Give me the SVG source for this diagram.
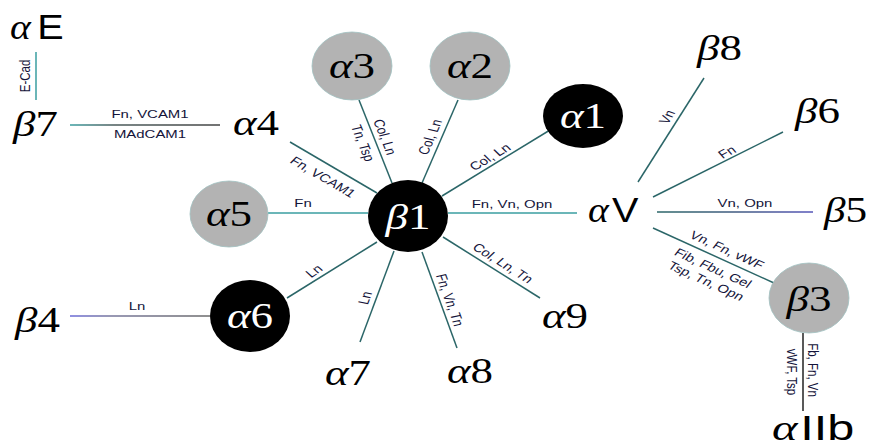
<svg xmlns="http://www.w3.org/2000/svg" width="869" height="446" viewBox="0 0 869 446">
<style>
.c{stroke:#2b6668;stroke-width:1.5;fill:none}
.cb{stroke:#3a9ea0;stroke-width:1.5;fill:none}
.lbl{font-family:"Liberation Sans",Arial,sans-serif;font-size:11.5px;fill:#14143a;text-anchor:middle}
.big{font-family:"Liberation Serif","Times New Roman",serif;font-size:36px;fill:#000}
.g{font-style:italic}
.sans{font-family:"Liberation Sans",Arial,sans-serif;font-style:normal}
.w{fill:#fff}
.mid{text-anchor:middle}
.grey{fill:#b3b3b3;stroke:#9fc0c0;stroke-width:0.8}
.blk{fill:#000}
</style>
<defs>
<linearGradient id="gb5" gradientUnits="userSpaceOnUse" x1="657" y1="0" x2="813" y2="0"><stop offset="0" stop-color="#2b6668"/><stop offset="0.5" stop-color="#3f5a80"/><stop offset="1" stop-color="#5555b8"/></linearGradient>
<linearGradient id="gb4" gradientUnits="userSpaceOnUse" x1="70" y1="0" x2="210" y2="0"><stop offset="0" stop-color="#6a6ad8"/><stop offset="0.3" stop-color="#76769a"/><stop offset="1" stop-color="#6a6a6a"/></linearGradient>
<linearGradient id="gb7" gradientUnits="userSpaceOnUse" x1="70" y1="0" x2="220" y2="0"><stop offset="0" stop-color="#3a9ea0"/><stop offset="0.3" stop-color="#4a5a5a"/><stop offset="1" stop-color="#444"/></linearGradient>
</defs>
<g id="connectors">
<line id="e-ecad" class="cb" x1="36" y1="52" x2="36" y2="100"/>
<line id="e-b7-a4" x1="70" y1="125" x2="220" y2="125" stroke="url(#gb7)" stroke-width="1.5"/>
<line id="e-a4-b1" class="c" x1="290" y1="142" x2="377" y2="193"/>
<line id="e-a3-b1" class="c" x1="359" y1="100" x2="392" y2="183"/>
<line id="e-a2-b1" class="c" x1="458" y1="100" x2="422" y2="183"/>
<line id="e-a1-b1" class="c" x1="550" y1="130" x2="442" y2="196"/>
<line id="e-a5-b1" class="cb" x1="268" y1="213" x2="368" y2="213"/>
<line id="e-b1-aV" class="cb" x1="448" y1="213" x2="577" y2="213"/>
<line id="e-b1-a6" class="c" x1="377" y1="242" x2="287" y2="298"/>
<line id="e-b1-a7" class="c" x1="394" y1="251" x2="360" y2="342"/>
<line id="e-b1-a8" class="c" x1="422" y1="252" x2="457" y2="348"/>
<line id="e-b1-a9" class="c" x1="443" y1="237" x2="540" y2="298"/>
<line id="e-b4-a6" x1="70" y1="316" x2="210" y2="316" stroke="url(#gb4)" stroke-width="1.5"/>
<line id="e-aV-b8" class="c" x1="638" y1="182" x2="704" y2="78"/>
<line id="e-aV-b6" class="c" x1="653" y1="197" x2="783" y2="132"/>
<line id="e-aV-b5" x1="657" y1="212" x2="813" y2="212" stroke="url(#gb5)" stroke-width="1.5"/>
<line id="e-aV-b3" class="c" x1="653" y1="228" x2="774" y2="283"/>
<line id="e-b3-aIIb" x1="803" y1="333" x2="803" y2="411" stroke="#222" stroke-width="1.5"/>

<text class="lbl" font-size="12" transform="translate(25 76) scale(1.3 1) rotate(-90)" dy="4">E-Cad</text>
<text class="lbl" transform="translate(150 118) scale(1.3 1)">Fn, VCAM1</text>
<text class="lbl" transform="translate(150 138) scale(1.3 1)">MAdCAM1</text>
<text class="lbl" transform="translate(323 177) scale(1.3 1) rotate(36.9)" dy="4">Fn, VCAM1</text>
<text class="lbl" transform="translate(385 137) scale(1.3 1) rotate(72.7)" dy="4">Col, Ln</text>
<text class="lbl" transform="translate(363 143) scale(1.3 1) rotate(72.7)" dy="4">Tn, Tsp</text>
<text class="lbl" transform="translate(430 137) scale(1.3 1) rotate(-71.9)" dy="4">Col, Ln</text>
<text class="lbl" transform="translate(490 157) scale(1.3 1) rotate(-38)" dy="4">Col, Ln</text>
<text class="lbl" transform="translate(303 207) scale(1.3 1)">Fn</text>
<text class="lbl" transform="translate(512 208) scale(1.3 1)">Fn, Vn, Opn</text>
<text class="lbl" transform="translate(314 271) scale(1.3 1) rotate(-40.2)" dy="4">Ln</text>
<text class="lbl" transform="translate(365 298) scale(1.3 1) rotate(-74.4)" dy="4">Ln</text>
<text class="lbl" transform="translate(450 300) scale(1.3 1) rotate(74.4)" dy="4">Fn, Vn, Tn</text>
<text class="lbl" transform="translate(503 263) scale(1.3 1) rotate(39.1)" dy="4">Col, Ln, Tn</text>
<text class="lbl" transform="translate(137 310) scale(1.3 1)">Ln</text>
<text class="lbl" transform="translate(667 117) scale(1.3 1) rotate(-64.3)" dy="4">Vn</text>
<text class="lbl" transform="translate(727 152) scale(1.3 1) rotate(-33.5)" dy="4">Fn</text>
<text class="lbl" transform="translate(745 207) scale(1.3 1)">Vn, Opn</text>
<text class="lbl" transform="translate(727 250) scale(1.3 1) rotate(30.6)" dy="4">Vn, Fn, vWF</text>
<text class="lbl" transform="translate(713 268) scale(1.3 1) rotate(30.6)" dy="4">Fib, Fbu, Gel</text>
<text class="lbl" transform="translate(706 281) scale(1.3 1) rotate(30.6)" dy="4">Tsp, Tn, Opn</text>
<text class="lbl" transform="translate(813 370) scale(1.3 1) rotate(90)" dy="4">Fb, Fn, Vn</text>
<text class="lbl" transform="translate(792 372) scale(1.3 1) rotate(90)" dy="4">vWF, Tsp</text>
</g>

<g id="aE"><text class="big" transform="translate(10 39) scale(1.1 1)"><tspan class="g">α</tspan><tspan class="sans" dx="6">E</tspan></text></g>
<g id="b7"><text class="big" transform="translate(13 136) scale(1.25 1)"><tspan class="g">β</tspan>7</text></g>
<g id="a4"><text class="big" transform="translate(233 135) scale(1.25 1)"><tspan class="g">α</tspan>4</text></g>
<g id="a3"><ellipse class="grey" cx="352" cy="66" rx="40" ry="34"/><text class="big mid" transform="translate(352 78) scale(1.25 1)"><tspan class="g">α</tspan>3</text></g>
<g id="a2"><ellipse class="grey" cx="470" cy="66" rx="40" ry="34"/><text class="big mid" transform="translate(470 78) scale(1.25 1)"><tspan class="g">α</tspan>2</text></g>
<g id="a1"><ellipse class="blk" cx="583" cy="116" rx="40" ry="32"/><text class="big mid w" transform="translate(583 128) scale(1.25 1)"><tspan class="g">α</tspan>1</text></g>
<g id="a5"><ellipse class="grey" cx="229" cy="214" rx="39" ry="33"/><text class="big mid" transform="translate(229 226) scale(1.25 1)"><tspan class="g">α</tspan>5</text></g>
<g id="b1"><ellipse class="blk" cx="408" cy="216" rx="40" ry="36"/><text class="big mid w" transform="translate(408 229) scale(1.25 1)"><tspan class="g">β</tspan>1</text></g>
<g id="a6"><ellipse class="blk" cx="250" cy="316" rx="40" ry="36"/><text class="big mid w" transform="translate(250 328) scale(1.25 1)"><tspan class="g">α</tspan>6</text></g>
<g id="b3"><ellipse class="grey" cx="809" cy="298" rx="40" ry="35"/><text class="big mid" transform="translate(809 311) scale(1.25 1)"><tspan class="g">β</tspan>3</text></g>
<g id="aV"><text class="big" font-size="40" transform="translate(588 222) scale(1.1 1)"><tspan class="g">α</tspan><tspan class="sans" dx="3">V</tspan></text></g>
<g id="b8"><text class="big" transform="translate(697 60) scale(1.25 1)"><tspan class="g">β</tspan>8</text></g>
<g id="b6"><text class="big" transform="translate(795 123) scale(1.25 1)"><tspan class="g">β</tspan>6</text></g>
<g id="b5"><text class="big" transform="translate(824 222) scale(1.2 1)"><tspan class="g">β</tspan>5</text></g>
<g id="a9"><text class="big" transform="translate(542 328) scale(1.25 1)"><tspan class="g">α</tspan>9</text></g>
<g id="a8"><text class="big" transform="translate(447 383) scale(1.25 1)"><tspan class="g">α</tspan>8</text></g>
<g id="a7"><text class="big" transform="translate(325 385) scale(1.25 1)"><tspan class="g">α</tspan>7</text></g>
<g id="b4"><text class="big" transform="translate(15 332) scale(1.25 1)"><tspan class="g">β</tspan>4</text></g>
<g id="aIIb"><text class="big" font-size="29" transform="translate(772 440) scale(1.35 1)"><tspan class="g">α</tspan><tspan class="sans" dx="2">IIb</tspan></text></g>
</svg>
